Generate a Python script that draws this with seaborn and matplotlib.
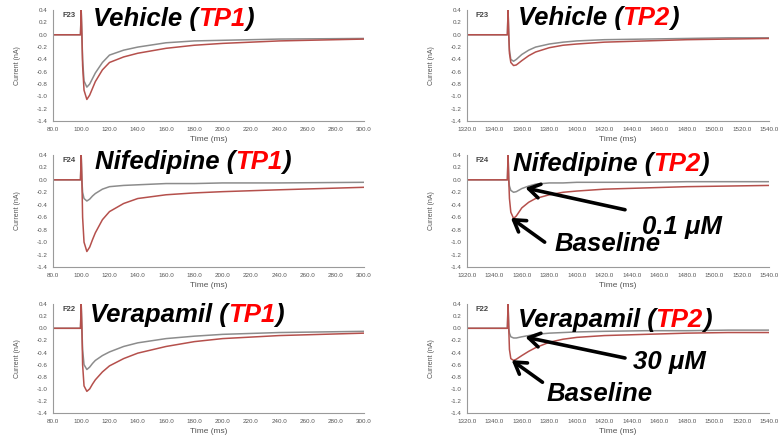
import numpy as np
import pandas as pd
import matplotlib
matplotlib.use("Agg")
import matplotlib.pyplot as plt
import seaborn as sns

# time axes (ms)
t_tp1 = [80, 99.5, 100, 100.5, 101, 102, 104, 106, 108, 110, 115, 120, 130, 140, 160, 180, 200, 240, 300]
t_tp2 = [1320, 1349.5, 1350, 1350.5, 1351, 1352, 1354, 1356, 1360, 1365, 1370, 1380, 1390, 1400,
         1420, 1450, 1480, 1510, 1540]

# currents (nA): "test" = grey trace, "base" = red baseline trace
veh_tp1_test = [0, 0, 0.4, 0, -0.4, -0.75, -0.85, -0.8, -0.71, -0.62, -0.45, -0.33, -0.25, -0.2, -0.13, -0.1, -0.09, -0.07, -0.06]
veh_tp1_base = [0, 0, 0.4, 0, -0.5, -0.9, -1.05, -0.98, -0.87, -0.76, -0.57, -0.45, -0.36, -0.3, -0.22, -0.17, -0.14, -0.1, -0.07]
nif_tp1_test = [0, 0, 0.4, 0, -0.2, -0.3, -0.34, -0.31, -0.26, -0.22, -0.15, -0.11, -0.09, -0.08, -0.06, -0.06, -0.05, -0.05, -0.04]
nif_tp1_base = [0, 0, 0.4, 0, -0.6, -1.0, -1.15, -1.08, -0.96, -0.85, -0.64, -0.51, -0.38, -0.3, -0.24, -0.21, -0.19, -0.16, -0.12]
ver_tp1_test = [0, 0, 0.4, 0, -0.35, -0.6, -0.68, -0.64, -0.58, -0.53, -0.45, -0.39, -0.3, -0.24, -0.17, -0.13, -0.1, -0.07, -0.05]
ver_tp1_base = [0, 0, 0.4, 0, -0.6, -0.95, -1.04, -1.0, -0.92, -0.85, -0.72, -0.62, -0.5, -0.41, -0.3, -0.22, -0.17, -0.12, -0.08]

veh_tp2_test = [0, 0, 0.4, 0, -0.25, -0.4, -0.43, -0.4, -0.32, -0.25, -0.2, -0.15, -0.12, -0.1, -0.08, -0.07, -0.06, -0.05, -0.05]
veh_tp2_base = [0, 0, 0.4, 0, -0.3, -0.45, -0.5, -0.49, -0.42, -0.34, -0.28, -0.21, -0.17, -0.15, -0.12, -0.1, -0.08, -0.07, -0.06]
nif_tp2_test = [0, 0, 0.4, 0, -0.1, -0.17, -0.2, -0.19, -0.14, -0.1, -0.07, -0.05, -0.05, -0.04, -0.04, -0.04, -0.03, -0.03, -0.03]
nif_tp2_base = [0, 0, 0.4, 0, -0.3, -0.52, -0.62, -0.58, -0.45, -0.36, -0.3, -0.24, -0.2, -0.18, -0.15, -0.13, -0.11, -0.1, -0.09]
ver_tp2_test = [0, 0, 0.4, 0, -0.08, -0.14, -0.16, -0.16, -0.14, -0.12, -0.1, -0.08, -0.07, -0.06, -0.05, -0.04, -0.04, -0.03, -0.03]
ver_tp2_base = [0, 0, 0.4, 0, -0.35, -0.5, -0.53, -0.51, -0.45, -0.38, -0.32, -0.23, -0.18, -0.15, -0.12, -0.1, -0.08, -0.07, -0.07]

drugs = ["Vehicle", "Nifedipine", "Verapamil"]
cells = ["F23", "F24", "F22"]

sns.set_style("white")
plt.rcParams["font.family"] = ["Liberation Sans", "DejaVu Sans"]
plt.rcParams["axes.unicode_minus"] = False

GREY = "#8c8c8c"
RED = "#b5504c"
AX_COL = "#9a9a9a"

fig = plt.figure(figsize=(7.78, 4.40), dpi=100)

# axes boxes (left, bottom, width, height)
row_y = [(0.725, 0.252), (0.393, 0.255), (0.061, 0.248)]
col_x = [(0.068, 0.400), (0.600, 0.389)]

panels = [
    [(t_tp1, veh_tp1_test, veh_tp1_base), (t_tp2, veh_tp2_test, veh_tp2_base)],
    [(t_tp1, nif_tp1_test, nif_tp1_base), (t_tp2, nif_tp2_test, nif_tp2_base)],
    [(t_tp1, ver_tp1_test, ver_tp1_base), (t_tp2, ver_tp2_test, ver_tp2_base)],
]
title_pos = [[(0.129, 0.919), (0.168, 0.925)],
             [(0.135, 0.935), (0.152, 0.92)],
             [(0.119, 0.899), (0.168, 0.855)]]

axes = {}
for r in range(3):
    for c in range(2):
        x0, w = col_x[c]
        y0, h = row_y[r]
        ax = fig.add_axes([x0, y0, w, h])
        axes[(r, c)] = ax
        t, test, base = panels[r][c]
        sns.lineplot(x=t, y=test, ax=ax, color=GREY, lw=1.1, estimator=None, sort=False)
        sns.lineplot(x=t, y=base, ax=ax, color=RED, lw=1.1, estimator=None, sort=False)

        if c == 0:
            ax.set_xlim(80, 300)
            ax.set_xticks(np.arange(80, 301, 20))
        else:
            ax.set_xlim(1320, 1540)
            ax.set_xticks(np.arange(1320, 1541, 20))
        ax.set_ylim(-1.4, 0.4)
        ax.set_yticks(np.arange(-1.4, 0.41, 0.2))
        ax.xaxis.set_major_formatter(matplotlib.ticker.FormatStrFormatter("%.1f"))
        ax.yaxis.set_major_formatter(matplotlib.ticker.FuncFormatter(lambda v, p: f"{v:.1f}" if abs(v) > 1e-9 else "0.0"))
        ax.tick_params(axis="both", labelsize=4.5, colors="#555555", length=2.5, width=0.6,
                       direction="out", pad=1.5)
        ax.tick_params(axis="both", color=AX_COL)
        for s in ["top", "right"]:
            ax.spines[s].set_visible(False)
        for s in ["left", "bottom"]:
            ax.spines[s].set_color(AX_COL)
            ax.spines[s].set_linewidth(0.8)
        ax.set_xlabel("Time (ms)", fontsize=6, color="#555555", labelpad=3)
        ax.set_ylabel("Current (nA)", fontsize=5, color="#555555", labelpad=11)
        ax.text(0.03, 0.98, cells[r], transform=ax.transAxes, fontsize=5.5,
                fontweight="bold", color="#444444", va="top", ha="left")

        # coloured title: "Drug (" black, "TP#" red, ")" black
        tx, ty = title_pos[r][c]
        t1 = ax.text(tx, ty, drugs[r] + " (", transform=ax.transAxes, fontsize=18.5,
                     fontweight="bold", style="italic", color="black", va="center", ha="left")
        t2 = ax.annotate(f"TP{c + 1}", xy=(1, 0), xycoords=t1, fontsize=18.5, fontweight="bold",
                         style="italic", color="#ff0000", va="bottom", ha="left")
        ax.annotate(")", xy=(1, 0), xycoords=t2, fontsize=18.5, fontweight="bold",
                    style="italic", color="black", va="bottom", ha="left")

arrow = dict(arrowstyle="->,head_length=0.8,head_width=0.5", lw=2.6, color="black",
             shrinkA=0, shrinkB=0)
lab = dict(fontsize=18.5, fontweight="bold", style="italic", color="black",
           va="center", ha="left", annotation_clip=False)

ax = axes[(1, 1)]
ax.annotate("", xy=(1362.5, -0.13), xytext=(1435, -0.48), arrowprops=arrow, annotation_clip=False)
ax.annotate("0.1 \u03bcM", xy=(1447, -0.76), **lab)
ax.annotate("", xy=(1352, -0.61), xytext=(1376.6, -1.0), arrowprops=arrow, annotation_clip=False)
ax.annotate("Baseline", xy=(1383.5, -1.03), **lab)

ax = axes[(2, 1)]
ax.annotate("", xy=(1362.5, -0.145), xytext=(1435, -0.49), arrowprops=arrow, annotation_clip=False)
ax.annotate("30 \u03bcM", xy=(1441, -0.56), **lab)
ax.annotate("", xy=(1352.6, -0.525), xytext=(1375, -0.89), arrowprops=arrow, annotation_clip=False)
ax.annotate("Baseline", xy=(1378, -1.09), **lab)

fig.savefig("out.png", dpi=100)
